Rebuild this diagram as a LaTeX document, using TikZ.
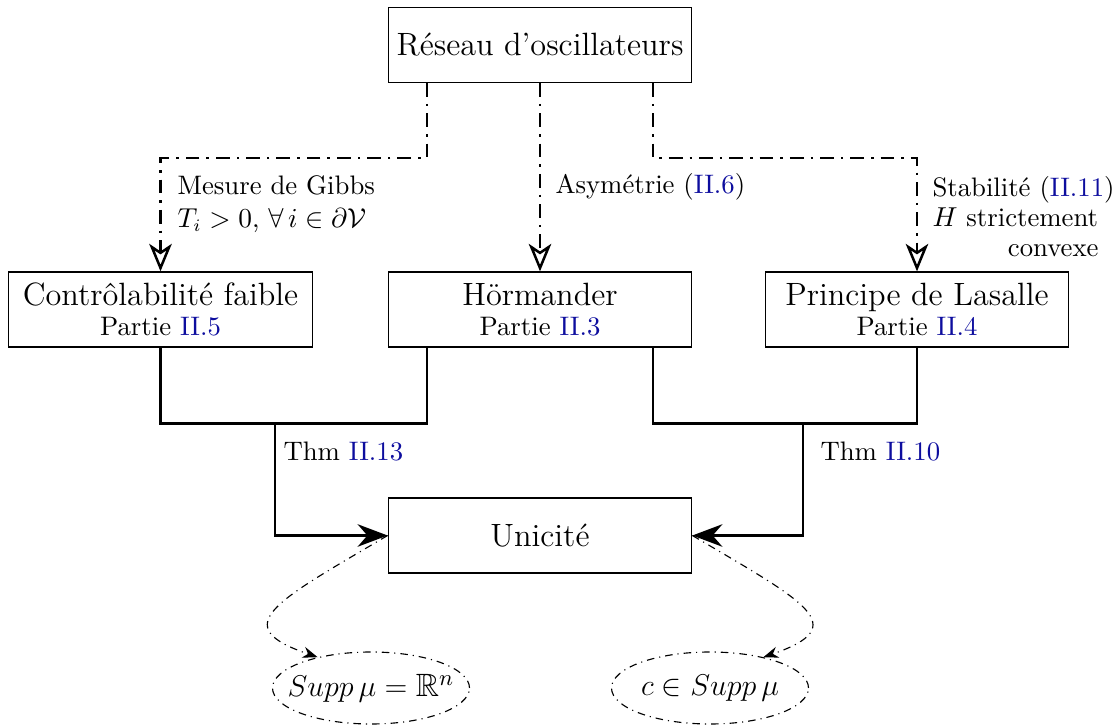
\documentclass[tikz,border=0pt]{standalone}
\usepackage{fontspec}
\usepackage{amssymb}
\usetikzlibrary{arrows.meta,shapes.geometric}
\definecolor{refblue}{rgb}{0.05,0.05,0.62}
\newcommand{\rf}[1]{\textcolor{refblue}{#1}}
\newcommand{\nsz}{\fontsize{10.7pt}{12pt}\selectfont}
\newcommand{\lsz}{\fontsize{12.9pt}{15pt}\selectfont}
\tikzset{
  every node/.style={font=\nsz},
  box/.style={draw, line width=0.5pt, minimum width=121.4pt, minimum height=30pt, align=center, inner sep=2pt},
  ddarrow/.style={line width=1pt, dash pattern=on 5.5pt off 2.8pt on 1pt off 2.8pt,
    -{Stealth[open,length=11pt,width=9pt,inset=3pt,line width=1pt]}},
  solidarrow/.style={line width=1.1pt, -{Stealth[length=12pt,width=9pt]}},
  solidline/.style={line width=1.1pt},
  curvearrow/.style={line width=0.45pt, dash dot, -{Stealth[length=6pt,width=4.5pt]}},
  ell/.style={ellipse, draw, line width=0.45pt, dash dot, minimum width=78.8pt, minimum height=28.8pt, inner sep=0pt},
  lab/.style={anchor=west, align=left, inner sep=0pt},
}
\begin{document}
\begin{tikzpicture}[x=0.4pt,y=-0.4pt]
\useasboundingbox (0,0) rectangle (1116,726);

\node[box] (res) at (540,45) {\lsz Réseau d’oscillateurs};
\node[box] (ctrl) at (160.5,309.5) {{\lsz Contrôlabilité faible}\\ Partie \rf{II.5}};
\node[box] (hor) at (540,309.5) {{\lsz Hörmander}\\ Partie \rf{II.3}};
\node[box] (las) at (917,309.5) {{\lsz Principe de Lasalle}\\ Partie \rf{II.4}};
\node[box] (uni) at (540,535.5) {\lsz Unicité};

\node[ell] (e1) at (371,688) {};
\node[font=\lsz] (t1) at (e1) {$Supp\,\mu = \mathbb{R}^n$};
\node[ell] (e2) at (710,688) {};
\node[font=\lsz] (t2) at (e2) {$c \in Supp\,\mu$};

% top dash-dot connectors
\draw[ddarrow] ([xshift=-45.2pt]res.south) -- ++(0,75) -| (ctrl.north);
\draw[ddarrow] (res.south) -- (hor.north);
\draw[ddarrow] ([xshift=45.2pt]res.south) -- ++(0,75) -| (las.north);

\node[lab] (l1) at (177,204) {Mesure de Gibbs\\[1pt] $T_i > 0$, $\forall\, i \in \partial\mathcal{V}$};
\node[lab] (l2) at (555,187) {Asymétrie (\rf{II.6})};
\node[lab, text width=66.4pt] (l3) at (932,217) {Stabilité~(\rf{II.11})\\ $H$ strictement\\ \hspace*{0pt plus 1filll}convexe};

% solid connectors
\draw[solidline] (ctrl.south) -- ++(0,76) -| ([xshift=-45.2pt]hor.south);
\draw[solidline] ([xshift=45.2pt]hor.south) -- ++(0,76) -| (las.south);
\coordinate (j1) at (275,423);
\coordinate (j2) at (803,423);
\draw[solidarrow] (j1) |- (uni.west);
\draw[solidarrow] (j2) |- (uni.east);
\node[lab] (l4) at (283,452) {Thm \rf{II.13}};
\node[lab] (l5) at (820,452) {Thm \rf{II.10}};

% curved arrows
\draw[curvearrow] (uni.west) .. controls (275,602) and (226,626) .. (e1.150);
\draw[curvearrow] (uni.east) .. controls (805,602) and (854,626) .. (e2.30);
\end{tikzpicture}
\end{document}
